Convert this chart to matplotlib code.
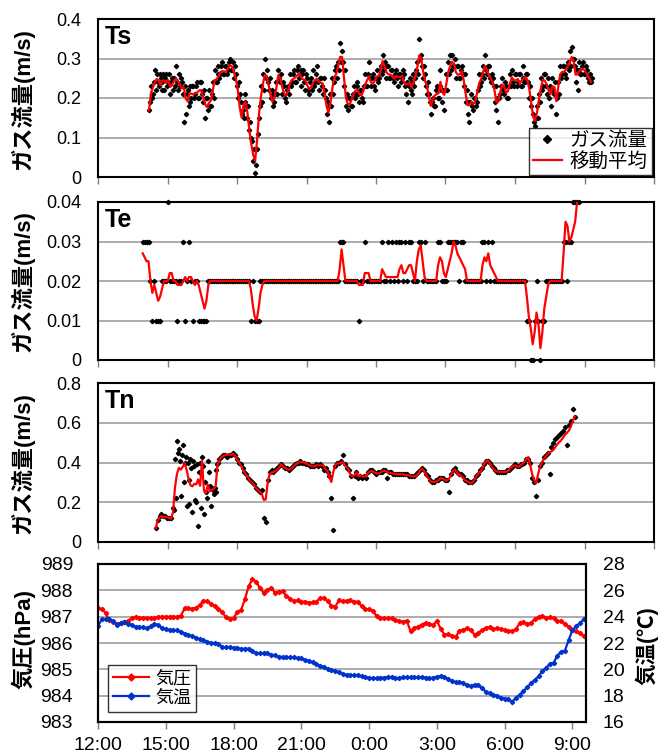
import numpy as np
import matplotlib
matplotlib.use('Agg')
import matplotlib.pyplot as plt

plt.rcParams['font.family'] = ['Liberation Sans', 'Noto Sans CJK JP']

# ---- データ (時刻は 12:00 からの経過時間 [h]) ----
# Ts : 5分ごと, 14:12 開始 (ts_flow2 は 2.5分ずれの測定値)
ts_start = 2.2
ts_flow = np.array([  # ガス流量 (x0.01 m/s)
    17,23,21,27,26,23,25,24,22,26, 24,21,25,25,28,22,23,24,14,16,
    22,23,20,23,21,24,20,24,19,15, 20,22,18,24,27,24,28,26,29,26,
    28,27,30,27,25,26,20,21,16,15, 21,15,12,10,4,1,7,15,23,26,
    30,27,22,20,21,19,24,27,24,21, 23,19,23,26,24,27,24,28,26,23,
    27,22,25,21,25,27,24,28,22,25, 21,22,16,14,21,25,24,28,29,34,
    32,23,18,17,20,18,23,21,24,19, 22,19,26,23,29,23,26,22,27,25,
    28,31,27,25,28,25,27,24,27,23, 26,25,26,21,19,25,21,26,25,29,
    35,31,25,26,21,21,16,20,18,23, 20,27,19,17,26,29,31,31,28,25,
    28,25,28,23,19,16,14,21,17,20, 19,26,24,28,31,26,28,24,25,19,
    17,14,21,25,21,23,20,26,27,23, 26,24,26,23,28,24,26,20,18,16,
    13,18,21,25,23,26,21,20,18,25, 21,16,24,28,26,28,25,29,32,33,
    30,24,22,29,26,29,26,27,24,24]) / 100
ts_flow2 = np.array([
    19,20,24,22,24,26,22,26,25,23, 26,24,22,23,24,26,25,21,23,21,
    18,19,23,20,23,20,24,21,22,20, 17,18,21,20,24,26,25,28,26,28,
    26,29,27,29,28,23,24,19,17,19, 18,18,14,9,7,3,11,18,19,22,
    25,24,25,22,18,21,21,25,26,24, 20,22,21,23,26,24,27,25,27,26,
    24,26,22,24,22,23,26,24,25,23, 25,20,19,18,18,21,27,25,27,29,
    29,27,21,20,18,21,20,23,21,22, 20,23,23,26,25,25,23,25,24,27,
    26,28,29,28,25,27,25,26,25,26, 24,27,23,24,23,22,24,23,27,26,
    30,28,28,23,24,19,19,18,22,20, 23,22,22,22,22,26,27,28,30,28,
    25,27,26,26,22,19,19,18,20,18, 22,23,26,25,27,28,25,26,23,23,
    20,20,23,22,24,20,23,23,24,26, 23,26,23,25,24,26,24,23,20,14,
    15,15,19,22,26,23,25,23,22,22, 24,20,21,25,28,26,28,27,28,30,
    28,27,27,26,28,26,28,25,26,25]) / 100
ts_avg = np.array([  # 移動平均 (x0.001 m/s)
    169,212,226,240,248,244,233,244,244,238, 245,228,233,244,249,244,233,224,228,199,
    192,212,211,209,212,214,219,220,205,185, 177,187,193,217,245,247,255,266,268,267,
    267,275,283,280,265,249,221,177,150,183, 190,163,118,83,56,41,93,160,203,235,
    258,256,233,206,191,200,226,258,249,228, 212,207,217,237,246,249,253,259,261,251,
    247,245,232,223,228,239,245,249,241,238, 237,212,179,163,188,225,252,261,281,304,
    304,251,201,185,185,196,210,219,220,210, 206,217,235,245,255,239,237,244,254,256,
    269,294,281,265,260,259,256,249,256,253, 253,256,241,234,236,238,228,240,255,277,
    308,301,267,243,232,204,180,194,206,210, 212,241,214,208,235,265,281,292,287,265,
    259,260,268,246,212,182,182,190,185,191, 214,237,247,264,281,271,258,250,240,219,
    189,191,216,234,228,214,217,238,252,246, 244,248,238,244,249,253,246,223,187,152,
    142,163,196,225,246,244,235,219,209,229, 228,192,228,260,266,266,272,281,292,304,
    293,259,260,269,271,274,267,260,250,241]) / 1000

# Te : 5分ごと, 13:56 開始
te_start = 1.93
te_flow = np.array([  # x0.01 m/s
    3,3,3,3,2,1,2,1,1,1, 2,2,2,4,2,2,2,2,1,2, 2,3,1,2,3,2,1,2,2,1,
    1,1,1,1,2,2,2,2,2,2, 2,2,2,2,2,2,2,2,2,2, 2,2,2,2,2,2,1,2,1,1,
    1,2,2,2,2,2,2,2,2,2, 2,2,2,2,2,2,2,2,2,2, 2,2,2,2,2,2,2,2,2,2,
    2,2,2,2,2,2,2,2,2,2, 2,2,3,3,3,2,2,2,2,2, 2,2,1,2,2,3,2,2,2,2,
    2,2,2,2,3,2,2,3,2,3, 2,3,2,3,3,2,3,2,3,3, 2,2,2,3,3,2,3,2,2,2,
    2,2,2,3,3,2,2,2,3,3, 3,3,3,3,2,3,3,2,2,2, 2,2,2,2,2,2,3,3,2,3,
    2,3,2,2,2,2,2,2,2,2, 2,2,2,2,2,2,2,2,2,1, 1,0,0,1,2,1,0,1,1,2,
    2,2,2,2,2,2,2,2,3,3, 2,3,3,4,4,4,4]) / 100
te_avg = np.array([  # x0.001 m/s
    27,26,25,25,20,17,19,17,15,16, 18,20,20,20,22,22,20,20,19,19,
    19,20,21,20,21,21,20,19,20,19, 17,15,13,15,19,20,20,20,20,20,
    20,20,20,20,20,20,20,20,20,20, 20,20,20,20,20,20,18,14,11,10,
    13,17,19,20,20,20,20,20,20,20, 20,20,20,20,20,20,20,20,20,20,
    20,20,20,20,20,20,20,20,20,20, 20,20,20,20,20,20,20,20,20,20,
    20,20,23,28,24,20,20,20,20,20, 20,20,19,19,19,22,22,22,20,20,
    20,20,20,20,23,22,21,21,21,21, 21,21,21,23,24,22,22,23,24,24,
    22,20,25,28,29,25,21,20,20,20, 20,20,20,24,26,25,22,21,23,25,
    27,30,29,27,26,25,24,23,20,20, 20,20,20,20,20,20,24,26,25,27,
    24,23,22,21,20,20,20,20,20,20, 20,20,20,20,20,20,20,20,20,16,
    11,8,4,7,12,9,3,7,13,16, 19,20,20,20,20,20,20,20,27,35,
    34,30,31,33,35,40,42]) / 1000

# Tn : 5分ごと, 14:29 開始
tn_start = 2.49
tn_flow = np.array([  # x0.01 m/s
    7,11,13,14,13,13,12,12,12,17, 42,51,47,23,49,40,18,31,42,15,
    38,20,8,40,43,14,25,41,28,27, 24,25,39,42,43,44,44,43,44,44,
    45,44,42,40,39,37,35,34,32,31, 30,29,27,26,25,26,12,10,31,35,
    36,35,36,37,38,39,38,37,37,36, 37,38,39,40,40,41,40,40,39,39,
    38,38,38,39,38,39,38,36,37,35, 33,22,6,38,40,40,41,44,39,37,
    36,33,22,33,35,32,33,32,33,32, 35,36,36,35,34,35,35,35,36,36,
    32,35,35,34,34,34,34,34,34,34, 34,33,33,33,33,34,35,36,37,36,
    34,33,31,30,30,31,31,32,32,32, 31,31,25,34,36,37,35,34,34,33,
    31,31,30,30,30,31,33,34,36,37, 39,41,41,40,38,37,36,35,35,35,
    35,35,36,36,37,38,39,38,38,39, 39,40,42,42,40,32,30,23,31,38,
    40,43,44,45,34,48,50,52,53,54, 55,56,58,49,59,61,67,63]) / 100
# 15:14 前後の乱れた区間の追加測定値 (2.5分ずれ)
tn_extra_start = tn_start + 9 / 12 + 2.5 / 60
tn_extra = np.array([16,22,45,41,44,30,43,40,19,37,41,21,
                     39,35,17,38,30,22,35,18,26,27,36,40]) / 100
tn_avg = np.array([  # x0.001 m/s
    70,108,122,131,125,125,125,120,117,151, 276,341,373,364,378,397,363,320,286,280,
    293,290,315,283,408,259,246,288,256,259, 268,276,383,415,427,434,437,439,441,437,
    444,437,419,403,388,368,351,337,322,308, 298,286,271,261,251,241,212,214,298,341,
    349,353,358,364,375,392,378,373,368,363, 366,376,386,395,400,403,403,400,395,390,
    385,380,380,385,386,386,386,383,368,356, 325,302,353,386,395,395,398,403,386,376,
    363,337,330,336,351,329,336,330,330,329, 349,354,358,351,347,344,347,353,358,358,
    351,349,346,344,342,341,341,341,341,337, 336,336,332,329,330,334,344,361,368,358,
    342,324,312,302,302,303,308,315,322,317, 310,310,319,336,358,364,351,336,336,327,
    312,307,302,295,298,312,329,342,353,366, 390,405,410,397,381,368,358,354,353,353,
    353,353,354,361,375,381,386,381,378,386, 393,403,417,427,386,342,314,295,337,378,
    398,417,430,442,451,456,463,478,492,502, 512,525,539,549,561,580,607,632]) / 1000

# 気象 : 10分ごと, 12:00 開始
pres = [987.32,987.29,987.15,986.86,986.81,986.72,986.75,986.81,986.85,986.94,
        987.00,986.96,986.96,986.95,986.95,986.94,987.00,987.00,987.00,987.00,
        987.00,987.00,987.03,987.32,987.32,987.30,987.34,987.43,987.61,987.59,
        987.48,987.39,987.28,987.18,986.97,986.90,986.94,987.19,987.25,987.66,
        988.15,988.42,988.33,988.09,987.91,988.03,988.09,987.91,987.95,987.96,
        987.80,987.68,987.59,987.62,987.57,987.57,987.53,987.54,987.57,987.70,
        987.72,987.58,987.41,987.38,987.62,987.58,987.61,987.63,987.57,987.57,
        987.39,987.28,987.29,987.22,987.01,986.94,986.94,986.94,986.94,986.87,
        986.84,986.81,986.85,986.44,986.57,986.62,986.70,986.77,986.72,986.68,
        986.84,986.54,986.32,986.34,986.27,986.24,986.46,986.51,986.56,986.48,
        986.32,986.38,986.49,986.58,986.61,986.53,986.56,986.53,986.51,986.46,
        986.46,986.52,986.76,986.81,986.72,986.77,986.91,987.00,987.04,986.94,
        986.97,986.94,986.82,986.85,986.71,986.62,986.48,986.44,986.38,986.27]
temp = [23.29,23.80,23.80,23.80,23.65,23.39,23.54,23.59,23.47,23.37,
        23.22,23.24,23.19,23.11,23.27,23.47,23.34,23.16,23.06,22.99,
        22.99,22.96,22.84,22.71,22.61,22.53,22.41,22.28,22.23,22.10,
        22.00,21.97,21.90,21.72,21.67,21.67,21.62,21.65,21.54,21.57,
        21.57,21.42,21.24,21.22,21.22,21.22,21.11,21.06,20.96,20.94,
        20.91,20.91,20.91,20.84,20.84,20.71,20.63,20.53,20.43,20.25,
        20.18,20.05,19.97,19.87,19.77,19.67,19.57,19.57,19.57,19.54,
        19.47,19.42,19.37,19.32,19.32,19.37,19.37,19.42,19.42,19.34,
        19.34,19.39,19.39,19.39,19.39,19.39,19.39,19.37,19.32,19.37,
        19.44,19.49,19.44,19.27,19.11,19.01,19.04,18.96,18.81,18.73,
        18.84,18.81,18.58,18.30,18.18,18.08,17.97,17.85,17.77,17.72,
        17.54,17.85,18.08,18.35,18.63,18.96,19.19,19.47,19.87,20.10,
        20.43,20.51,21.04,21.34,21.42,22.23,22.99,23.27,23.52,23.80]

time_labels = ['12:00', '15:00', '18:00', '21:00', '0:00', '3:00', '6:00', '9:00']

ts_t = ts_start + np.arange(len(ts_avg)) / 12
te_t = te_start + np.arange(len(te_avg)) / 12
tn_t = tn_start + np.arange(len(tn_avg)) / 12
tn_extra_t = tn_extra_start + np.arange(len(tn_extra)) / 12
wx_t = np.arange(len(pres)) / 6


def px_rect(l, t, r, b):
    return [l / 660, 1 - b / 756, (r - l) / 660, (b - t) / 756]


fig = plt.figure(figsize=(6.6, 7.56), dpi=100)

GRID = '#a6a6a6'
DOT = dict(ls='none', marker='D', ms=2.2, color='black', zorder=2)


def style_top(ax, ymax, ticks, labels, name):
    ax.set_xlim(0, 24)
    ax.set_xticks(np.arange(0, 25, 3))
    ax.set_xticklabels([])
    ax.set_ylim(0, ymax)
    ax.set_yticks(ticks)
    ax.set_yticklabels(labels)
    ax.yaxis.grid(True, color=GRID, lw=1.3)
    ax.set_axisbelow(True)
    ax.tick_params(axis='y', length=0, labelsize=13, pad=12)
    ax.tick_params(axis='x', length=5, width=1, color='#808080', direction='out')
    for s in ax.spines.values():
        s.set_linewidth(1.5)
        s.set_color('black')
    ax.text(0.012, 0.965, name, transform=ax.transAxes, fontsize=18,
            fontweight='bold', va='top', ha='left')


# Ts
ax1 = fig.add_axes(px_rect(98, 19, 654, 177))
ax1.plot(ts_t, ts_flow, label='ガス流量', **DOT)
ax1.plot(ts_t + 2.5 / 60, ts_flow2, **DOT)
ax1.plot(ts_t, ts_avg, color='#ff0000', lw=1.6, label='移動平均', zorder=3)
style_top(ax1, 0.4, [0, 0.1, 0.2, 0.3, 0.4], ['0', '0.1', '0.2', '0.3', '0.4'], 'Ts')
leg = ax1.legend(loc='lower right', fontsize=14, frameon=True, fancybox=False,
                 edgecolor='black', borderaxespad=0.12, handlelength=1.5,
                 handletextpad=0.4, borderpad=0.2, labelspacing=0.1, markerscale=2)
leg.get_frame().set_linewidth(1.0)

# Te
ax2 = fig.add_axes(px_rect(98, 202, 654, 360))
ax2.plot(te_t, te_flow, clip_on=False, **DOT)
ax2.plot(te_t, te_avg, color='#ff0000', lw=1.6, zorder=3)
style_top(ax2, 0.04, [0, 0.01, 0.02, 0.03, 0.04], ['0', '0.01', '0.02', '0.03', '0.04'], 'Te')

# Tn
ax3 = fig.add_axes(px_rect(98, 383, 654, 542))
ax3.plot(tn_t, tn_flow, **DOT)
ax3.plot(tn_extra_t, tn_extra, **DOT)
ax3.plot(tn_t, tn_avg, color='#ff0000', lw=1.6, zorder=3)
style_top(ax3, 0.8, [0, 0.2, 0.4, 0.6, 0.8], ['0', '0.2', '0.4', '0.6', '0.8'], 'Tn')

for y in (99, 281, 463):
    fig.text(23 / 660, 1 - y / 756, 'ガス流量(m/s)', rotation=90, ha='center', va='center',
             fontsize=16, fontweight='bold')

# 気圧・気温
ax4 = fig.add_axes(px_rect(98, 564, 586, 722))
ax5 = ax4.twinx()
l1, = ax4.plot(wx_t, pres, color='#ff0000', lw=1.6, marker='D', ms=2.2, label='気圧')
l2, = ax5.plot(wx_t, temp, color='#0033cc', lw=1.6, marker='D', ms=2.2, label='気温')
ax4.set_xlim(0, 21.6)
ax4.set_xticks(np.arange(0, 22, 3))
ax4.set_xticklabels(time_labels)
ax4.set_ylim(983, 989)
ax4.set_yticks(range(983, 990))
ax5.set_ylim(16, 28)
ax5.set_yticks(range(16, 29, 2))
ax4.yaxis.grid(True, color=GRID, lw=1.3)
ax4.set_axisbelow(True)
ax4.tick_params(axis='y', length=0, labelsize=14, pad=18)
ax5.tick_params(axis='y', length=0, labelsize=14, pad=12)
ax4.tick_params(axis='x', length=5, width=1, color='#808080', direction='out', labelsize=14, pad=6)
for a in (ax4, ax5):
    for s in a.spines.values():
        s.set_linewidth(1.5)
        s.set_color('black')
leg2 = ax4.legend(handles=[l1, l2], loc='lower left', fontsize=13, frameon=True, fancybox=False,
                  edgecolor='black', borderaxespad=0.55, handlelength=2.0,
                  handletextpad=0.3, borderpad=0.3, labelspacing=0.15, markerscale=1.6)
leg2.get_frame().set_linewidth(1.0)
fig.text(23 / 660, 1 - 639 / 756, '気圧(hPa)', rotation=90, ha='center', va='center',
         fontsize=16, fontweight='bold')
fig.text(647 / 660, 1 - 646 / 756, '気温(℃)', rotation=90, ha='center', va='center',
         fontsize=15.5, fontweight='bold')

fig.savefig('out.png', dpi=100)
